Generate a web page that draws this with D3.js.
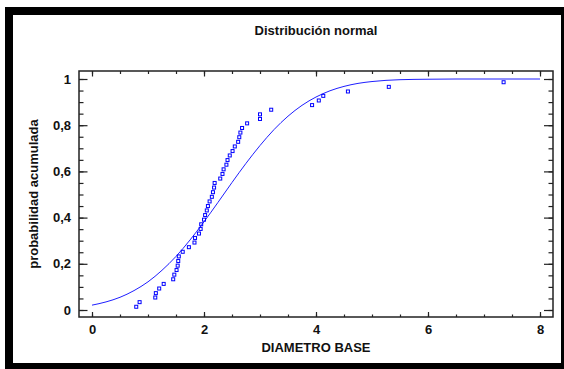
<!DOCTYPE html>
<html>
<head>
<meta charset="utf-8">
<script src="https://cdn.jsdelivr.net/npm/d3@7"></script>
<style>
  html, body { margin: 0; padding: 0; background: #fff; }
  svg { display: block; }
  text { font-family: "Liberation Sans", Arial, sans-serif; font-weight: bold; fill: #111; }
</style>
</head>
<body>
<svg id="chart" width="564" height="369"></svg>
<script>
// ---- data ----
const title = "Distribución normal";
const xLabel = "DIAMETRO BASE";
const yLabel = "probabilidad acumulada";

// observed diameters (sorted) and their plotted cumulative probabilities
const diametro = [0.79, 0.85, 1.13, 1.14, 1.20, 1.28, 1.45, 1.47, 1.51, 1.53,
                  1.54, 1.55, 1.62, 1.73, 1.83, 1.84, 1.91, 1.94, 1.95, 2.00,
                  2.02, 2.05, 2.07, 2.10, 2.14, 2.16, 2.18, 2.19, 2.29, 2.33,
                  2.35, 2.40, 2.42, 2.46, 2.51, 2.55, 2.61, 2.63, 2.65, 2.68,
                  2.77, 3.00, 3.00, 3.20, 3.93, 4.05, 4.13, 4.57, 5.30, 7.35];
const probabilidad = [0.014, 0.034, 0.054, 0.073, 0.093, 0.113, 0.133, 0.153, 0.173, 0.192,
                      0.212, 0.232, 0.252, 0.272, 0.292, 0.312, 0.331, 0.351, 0.371, 0.391,
                      0.411, 0.431, 0.450, 0.470, 0.490, 0.510, 0.530, 0.550, 0.569, 0.589,
                      0.609, 0.629, 0.649, 0.669, 0.688, 0.708, 0.728, 0.748, 0.768, 0.788,
                      0.808, 0.827, 0.847, 0.867, 0.887, 0.907, 0.927, 0.946, 0.966, 0.986];

// fitted normal curve
const curvaX = [0, 0.25, 0.5, 0.75, 1.0, 1.25, 1.5, 1.75, 2.0, 2.25, 2.5, 2.75, 3.0,
                3.25, 3.5, 3.75, 4.0, 4.25, 4.5, 4.75, 5.0, 5.5, 6.0, 6.5, 7.0, 7.5, 8.0];
const curvaY = [0.021, 0.035, 0.055, 0.084, 0.122, 0.172, 0.232, 0.303, 0.382, 0.466, 0.552, 0.635, 0.712,
                0.781, 0.839, 0.886, 0.922, 0.949, 0.968, 0.981, 0.989, 0.997, 0.999, 1.0, 1.0, 1.0, 1.0];

const xTicks = [0, 2, 4, 6, 8];
const xTickLabels = ["0", "2", "4", "6", "8"];
const yTicks = [0, 0.2, 0.4, 0.6, 0.8, 1];
const yTickLabels = ["0", "0,2", "0,4", "0,6", "0,8", "1"];

// ---- layout ----
const svg = d3.select("#chart");
const W = 564, H = 369;
const plot = { left: 79, right: 553, top: 71, bottom: 317 };

// outer thick black frame
svg.append("rect").attr("x", 0).attr("y", 0).attr("width", W).attr("height", H).attr("fill", "#fff");
svg.append("rect")
  .attr("x", 9).attr("y", 11).attr("width", 556).attr("height", 356)
  .attr("fill", "none").attr("stroke", "#000").attr("stroke-width", 8);

const x = d3.scaleLinear().domain([0, 8]).range([92, 540]);
const y = d3.scaleLinear().domain([0, 1]).range([310, 79]);

const xMinor = d3.range(0, 8.001, 0.5);
const yMinor = d3.range(0, 1.0001, 0.05);

function styleAxis(g) {
  g.select(".domain").remove();
  g.selectAll(".tick line").attr("stroke", "#222").attr("stroke-width", 1.2);
}

// bottom ticks (inward)
svg.append("g").attr("transform", `translate(0,${plot.bottom})`)
  .call(d3.axisTop(x).tickValues(xMinor).tickSize(2.5).tickFormat(""))
  .call(styleAxis);
svg.append("g").attr("transform", `translate(0,${plot.bottom})`)
  .call(d3.axisTop(x).tickValues(xTicks).tickSize(5).tickFormat(""))
  .call(styleAxis);
// top ticks (inward)
svg.append("g").attr("transform", `translate(0,${plot.top})`)
  .call(d3.axisBottom(x).tickValues(xMinor).tickSize(3).tickFormat(""))
  .call(styleAxis);
svg.append("g").attr("transform", `translate(0,${plot.top})`)
  .call(d3.axisBottom(x).tickValues(xTicks).tickSize(5.5).tickFormat(""))
  .call(styleAxis);
// left ticks (inward)
svg.append("g").attr("transform", `translate(${plot.left},0)`)
  .call(d3.axisRight(y).tickValues(yMinor).tickSize(4.5).tickFormat(""))
  .call(styleAxis);
svg.append("g").attr("transform", `translate(${plot.left},0)`)
  .call(d3.axisRight(y).tickValues(yTicks).tickSize(8.5).tickFormat(""))
  .call(styleAxis);
// right ticks (inward)
svg.append("g").attr("transform", `translate(${plot.right},0)`)
  .call(d3.axisLeft(y).tickValues(yMinor).tickSize(4.5).tickFormat(""))
  .call(styleAxis);
svg.append("g").attr("transform", `translate(${plot.right},0)`)
  .call(d3.axisLeft(y).tickValues(yTicks).tickSize(9).tickFormat(""))
  .call(styleAxis);

// tick labels
const xl = svg.append("g").attr("transform", `translate(0,${plot.bottom})`)
  .call(d3.axisBottom(x).tickValues(xTicks).tickSize(0).tickPadding(8)
        .tickFormat((d, i) => xTickLabels[i]));
xl.select(".domain").remove();
xl.selectAll("text").style("font-size", "13px").style("font-family", "Liberation Sans, Arial, sans-serif")
  .style("font-weight", "bold").attr("fill", "#111");

const yl = svg.append("g").attr("transform", `translate(${plot.left},0)`)
  .call(d3.axisLeft(y).tickValues(yTicks).tickSize(0).tickPadding(8)
        .tickFormat((d, i) => yTickLabels[i]));
yl.select(".domain").remove();
yl.selectAll("text").style("font-size", "13px").style("font-family", "Liberation Sans, Arial, sans-serif")
  .style("font-weight", "bold").attr("fill", "#111");

// plot frame
svg.append("rect")
  .attr("x", plot.left).attr("y", plot.top)
  .attr("width", plot.right - plot.left).attr("height", plot.bottom - plot.top)
  .attr("fill", "none").attr("stroke", "#222").attr("stroke-width", 1.5);

// fitted curve
const line = d3.line().x(d => x(d[0])).y(d => y(d[1])).curve(d3.curveMonotoneX);
svg.append("path")
  .datum(curvaX.map((v, i) => [v, curvaY[i]]))
  .attr("d", line)
  .attr("fill", "none").attr("stroke", "#1f1fff").attr("stroke-width", 1);

// observed points (hollow squares)
svg.append("g").selectAll("rect")
  .data(diametro.map((v, i) => [v, probabilidad[i]]))
  .join("rect")
  .attr("x", d => x(d[0]) - 1.5).attr("y", d => y(d[1]) - 1.5)
  .attr("width", 3).attr("height", 3)
  .attr("fill", "none").attr("stroke", "#0000ff").attr("stroke-width", 1);

// titles
svg.append("text").attr("x", (plot.left + plot.right) / 2).attr("y", 35)
  .attr("text-anchor", "middle").style("font-size", "13px").text(title);
svg.append("text").attr("x", (plot.left + plot.right) / 2).attr("y", 352)
  .attr("text-anchor", "middle").style("font-size", "13px").text(xLabel);
svg.append("text")
  .attr("transform", `translate(38,${(plot.top + plot.bottom) / 2}) rotate(-90)`)
  .attr("text-anchor", "middle").style("font-size", "13px").text(yLabel);
</script>
</body>
</html>
